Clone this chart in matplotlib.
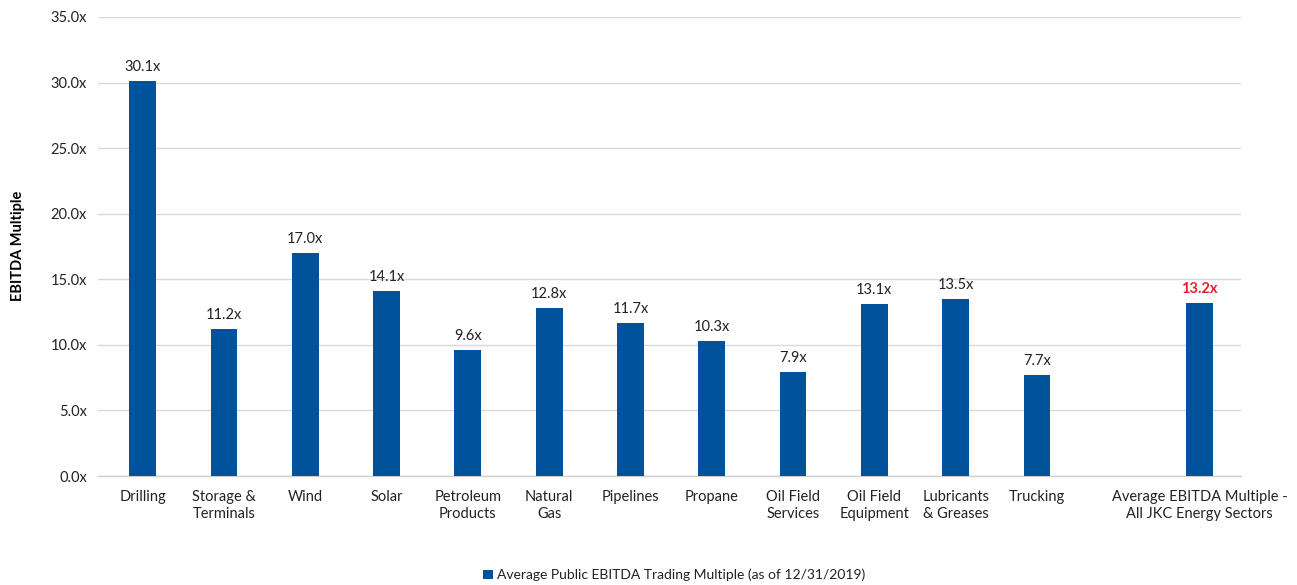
import matplotlib
matplotlib.use("Agg")
import matplotlib.pyplot as plt

categories = ["Drilling", "Storage &\nTerminals", "Wind", "Solar", "Petroleum\nProducts",
              "Natural\nGas", "Pipelines", "Propane", "Oil Field\nServices", "Oil Field\nEquipment",
              "Lubricants\n& Greases", "Trucking", "",
              "Average EBITDA Multiple -\nAll JKC Energy Sectors"]
multiples = [30.1, 11.2, 17.0, 14.1, 9.6, 12.8, 11.7, 10.3, 7.9, 13.1, 13.5, 7.7, None, 13.2]
y_ticks = [0, 5, 10, 15, 20, 25, 30, 35]
legend_label = "Average Public EBITDA Trading Multiple (as of 12/31/2019)"

plt.rcParams["font.family"] = ["Lato", "DejaVu Sans"]
bar_color = "#00539B"
text_color = "#222222"

fig = plt.figure(figsize=(12.97, 5.85), dpi=100)
ax = fig.add_axes([98 / 1297, 1 - 476 / 585, (1241 - 98) / 1297, (476 - 17) / 585])

xs = [i for i, v in enumerate(multiples) if v is not None]
vals = [v for v in multiples if v is not None]
bars = ax.bar(xs, vals, width=0.33, color=bar_color, label=legend_label, zorder=3)

for x, v in zip(xs, vals):
    is_avg = x == len(multiples) - 1
    ax.annotate(f"{v:.1f}x", (x, v), xytext=(0, 5), textcoords="offset points",
                ha="center", va="bottom", fontsize=10.5,
                color="#E8202A" if is_avg else text_color,
                fontweight="bold" if is_avg else "normal")

ax.set_xlim(-0.55, len(multiples) - 0.49)
ax.set_ylim(0, 35)
ax.set_yticks(y_ticks)
ax.set_yticklabels([f"{t:.1f}x" for t in y_ticks], fontsize=10.5, color=text_color)
ax.set_xticks(range(len(categories)))
ax.set_xticklabels(categories, fontsize=10.5, color=text_color, linespacing=1.3)
ax.tick_params(axis="both", length=0)
ax.tick_params(axis="x", pad=10)
ax.tick_params(axis="y", pad=8)
ax.grid(axis="y", color="#D9D9D9", linewidth=1, zorder=0)
for side in ["top", "right", "left"]:
    ax.spines[side].set_visible(False)
ax.spines["bottom"].set_color("#D0D0D0")
ax.spines["bottom"].set_linewidth(1)

fig.text(18 / 1297, 1 - 246 / 585, "EBITDA Multiple", rotation=90, ha="center", va="center",
         fontsize=10.5, fontweight="bold", color="black")

fig.legend(handles=[bars], labels=[legend_label], loc="center", bbox_to_anchor=(0.52, 1 - 575 / 585),
           frameon=False, fontsize=10, handlelength=0.7, handleheight=0.7, handletextpad=0.3,
           labelcolor=text_color)

fig.savefig("out.png", dpi=100)
